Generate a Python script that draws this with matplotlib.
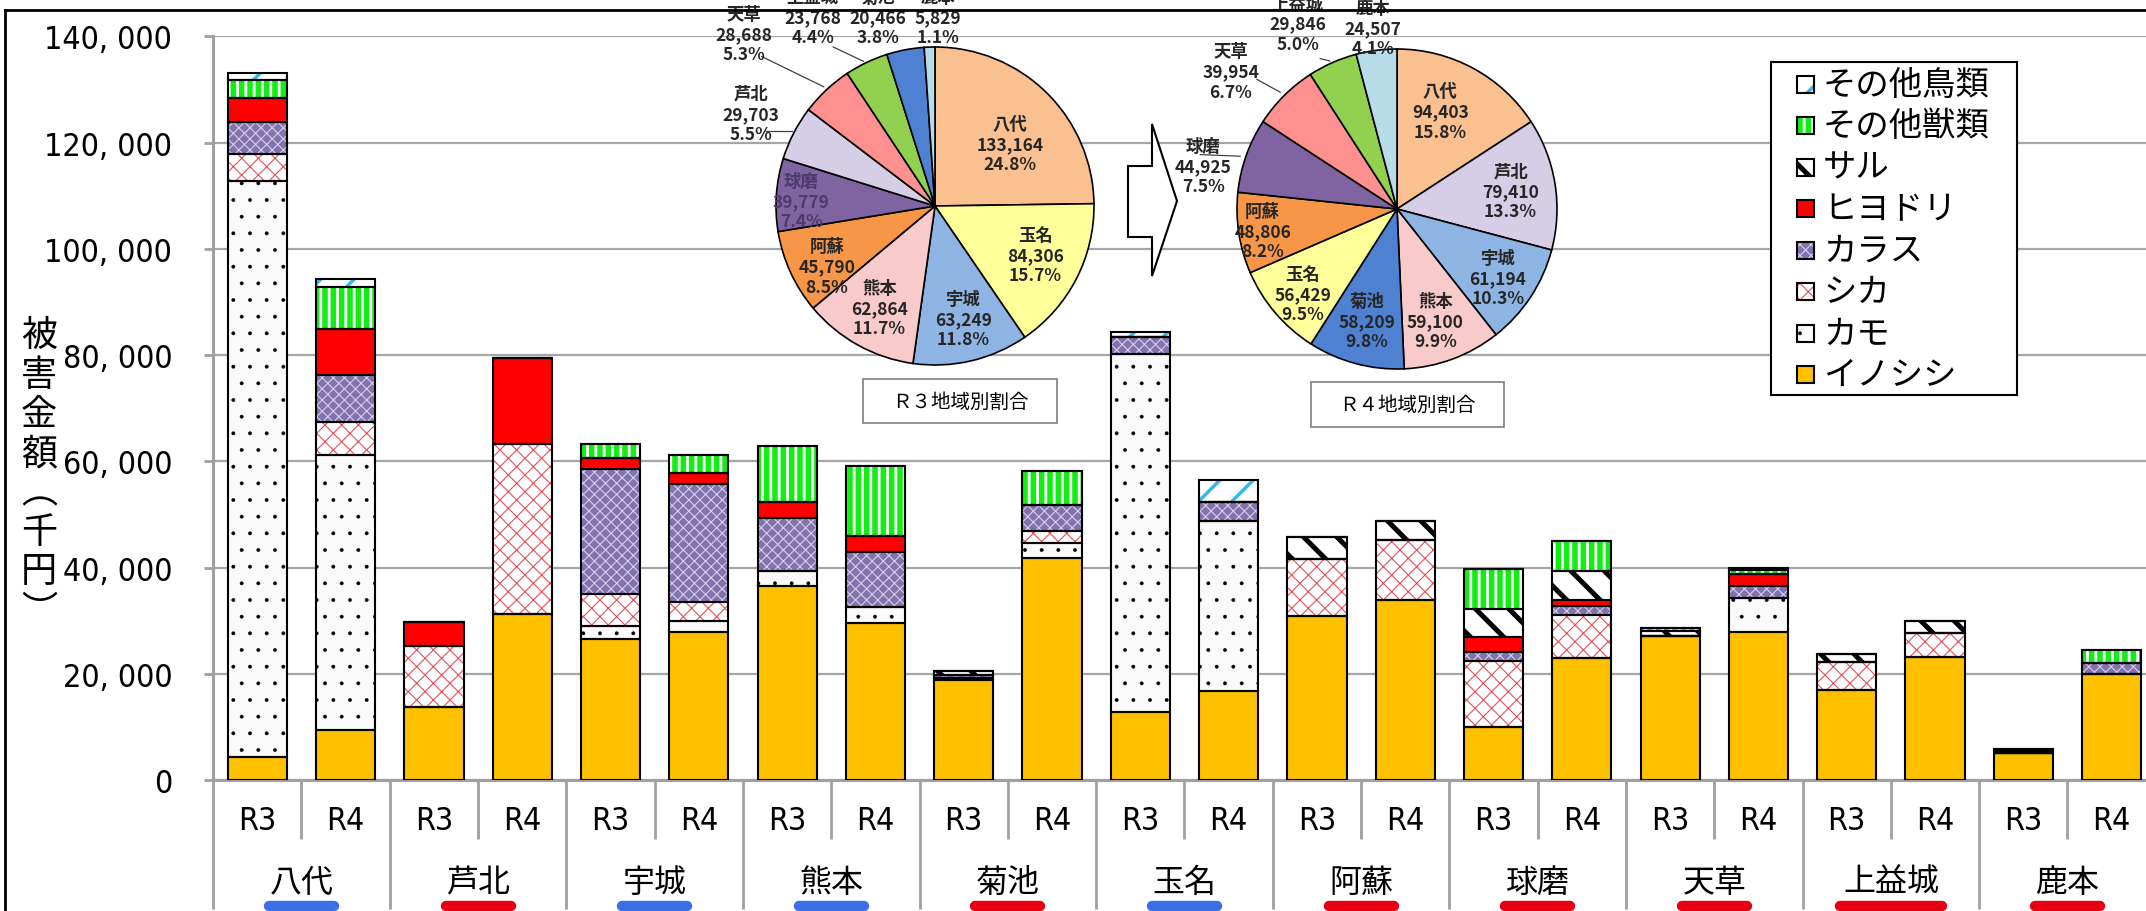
import matplotlib
matplotlib.use("Agg")
import matplotlib.pyplot as plt
from matplotlib import font_manager
from matplotlib.font_manager import FontProperties
from matplotlib.patches import Rectangle, Polygon
from matplotlib.lines import Line2D
import numpy as np

# 地域・年度
regions = ['八代', '芦北', '宇城', '熊本', '菊池', '玉名', '阿蘇', '球磨', '天草', '上益城', '鹿本']
years = ['R3', 'R4']
underline_blue = ['八代', '宇城', '熊本', '玉名']

# 獣種別の被害金額（千円）  順番: 各地域 R3, R4
inoshishi = [4300, 9500, 13700, 31200, 26600, 27800, 36500, 29500, 18900, 41800, 12850, 16700,
             30880, 33830, 10050, 22970, 27100, 27780, 17010, 23180, 5040, 20030]
kamo = [108500, 51700, 0, 0, 2400, 2100, 2800, 3100, 300, 2800, 67370, 32130,
        0, 0, 0, 0, 0, 6420, 0, 0, 0, 0]
shika = [5000, 6100, 11600, 32000, 6100, 3650, 0, 0, 0, 2200, 0, 0,
         10710, 11300, 12410, 8130, 0, 0, 5230, 4410, 0, 0]
karasu = [6100, 8900, 0, 0, 23500, 22250, 10050, 10300, 600, 4900, 3250, 3540,
          0, 0, 1620, 1700, 0, 2330, 0, 0, 0, 2080]
hiyodori = [4400, 8700, 4400, 16210, 2000, 1950, 2950, 3000, 0, 0, 0, 0,
            0, 0, 2810, 1100, 0, 2270, 0, 0, 0, 0]
saru = [0, 0, 0, 0, 0, 0, 0, 0, 666, 0, 0, 0,
        4200, 3676, 5320, 5470, 1000, 0, 1528, 2256, 400, 0]
other_beasts = [3500, 8000, 0, 0, 2650, 3450, 10550, 13200, 0, 6500, 0, 0,
                0, 0, 7569, 5555, 588, 700, 0, 0, 389, 2397]
other_birds = [1364, 1503, 0, 0, 0, 0, 0, 0, 0, 0, 836, 4059,
               0, 0, 0, 0, 0, 454, 0, 0, 0, 0]

# 地域別割合（円グラフ）
r3_regions = ['八代', '玉名', '宇城', '熊本', '阿蘇', '球磨', '芦北', '天草', '上益城', '菊池', '鹿本']
r3_values = [133164, 84306, 63249, 62864, 45790, 39779, 29703, 28688, 23768, 20466, 5829]
r4_regions = ['八代', '芦北', '宇城', '熊本', '菊池', '玉名', '阿蘇', '球磨', '天草', '上益城', '鹿本']
r4_values = [94403, 79410, 61194, 59100, 58209, 56429, 48806, 44925, 39954, 29846, 24507]

pie_colors = {'八代': '#FAC090', '玉名': '#FFFF99', '宇城': '#8DB4E2', '熊本': '#F9CACA',
              '阿蘇': '#F79646', '球磨': '#8064A2', '芦北': '#D5CEE6', '天草': '#FF9090',
              '上益城': '#92D050', '菊池': '#4F81D2', '鹿本': '#B7DEE8'}

# ラベル位置（円の半径=1 とした座標）
r3_label_pos = [(0.47, 0.39), (0.63, -0.31), (0.18, -0.71), (-0.35, -0.64), (-0.68, -0.38),
                (-0.84, 0.03), (-1.16, 0.58), (-1.2, 1.08), (-0.77, 1.19), (-0.36, 1.19), (0.02, 1.19)]
r4_label_pos = [(0.27, 0.61), (0.71, 0.11), (0.63, -0.43), (0.24, -0.70), (-0.19, -0.70),
                (-0.59, -0.53), (-0.84, -0.14), (-1.21, 0.27), (-1.04, 0.86), (-0.62, 1.16), (-0.15, 1.13)]
r3_leaders = [((-1.06, 0.47), (-0.90, 0.47)), ((-1.09, 0.94), (-0.70, 0.75)), ((-0.64, 1.0), (-0.45, 0.91))]
r4_leaders = [((-1.23, 0.34), (-0.98, 0.33)), ((-0.875, 0.81), (-0.73, 0.73)), ((-0.48, 0.94), (-0.42, 0.925))]

# フォント
JP = ['Noto Sans CJK JP', 'DejaVu Sans']
plt.rcParams['font.family'] = JP


def narrow_font(size):
    # 細身の数字フォントがあれば使う
    fl = font_manager.fontManager.ttflist
    for test in (lambda f: f.name == 'Liberation Sans Narrow',
                 lambda f: f.name == 'DejaVu Sans' and f.stretch == 'condensed',
                 lambda f: 'Condensed' in f.name or 'Narrow' in f.name):
        for f in fl:
            if test(f) and f.style == 'normal' and f.weight in (400, 'normal', 'regular'):
                return FontProperties(fname=f.fname, size=size)
    return FontProperties(family='Liberation Sans', size=size - 2)


NUM_FP = narrow_font(23)

W, H = 2146, 912


def fx(px):
    return px / W


def fy(py):
    return 1 - py / H


fig = plt.figure(figsize=(W / 100, H / 100), dpi=100)

# ---- 棒グラフ ----
ax = fig.add_axes([fx(213.2), fy(781), 1942.6 / W, 743.7 / H])

layers = [
    ('イノシシ', inoshishi, '#FFC000', '#FFC000', None, 1.0),
    ('カモ', kamo, '#FAFAFA', 'black', '.', 0.3),
    ('シカ', shika, 'white', '#E8505A', 'xx', 0.8),
    ('カラス', karasu, '#8272AE', '#D8D0EA', 'xxx', 0.8),
    ('ヒヨドリ', hiyodori, '#FF0000', '#FF0000', None, 1.0),
    ('サル', saru, 'white', 'black', '\\', 3.6),
    ('その他獣類', other_beasts, '#11EE11', 'white', '||', 2.0),
    ('その他鳥類', other_birds, 'white', '#33BBEE', '/', 2.5),
]

x = np.arange(len(regions) * len(years))
bottom = np.zeros(len(x))
bw = 0.67
for name, vals, face, hcol, hatch, hlw in layers:
    vals = np.array(vals, dtype=float)
    with plt.rc_context({'hatch.linewidth': hlw}):
        bars = ax.bar(x, vals, bw, bottom=bottom, color=face, edgecolor=hcol,
                      hatch=hatch, linewidth=0, zorder=2)
    for b in bars:
        if hasattr(b, 'set_hatch_linewidth'):
            b.set_hatch_linewidth(hlw)
    ax.bar(x, vals, bw, bottom=bottom, fill=False, edgecolor='black', linewidth=1.5, zorder=3)
    bottom += vals

ax.set_xlim(-0.5, len(x) - 0.5)
ax.set_ylim(0, 140000)
yt = list(range(0, 140001, 20000))
ax.set_yticks(yt, [f"{v:,}".replace(',', ', ') for v in yt], fontproperties=NUM_FP)
ax.set_xticks(x, years * len(regions), fontproperties=NUM_FP)
ax.tick_params(axis='x', length=0, pad=18)
ax.tick_params(axis='y', length=6.5, width=2, color='#A0A0A0', pad=23)
ax.grid(axis='y', color='#A6A6A6', linewidth=1.6)
ax.set_axisbelow(True)
for s in ['top', 'right']:
    ax.spines[s].set_visible(False)
for s in ['left', 'bottom']:
    ax.spines[s].set_color('#A0A0A0')
    ax.spines[s].set_linewidth(2.2)

trans = ax.get_xaxis_transform()
ax.vlines(np.arange(0, len(x), 2) + 0.5, -0.0793, 0, transform=trans,
          colors='#A0A0A0', linewidth=2, clip_on=False)
ax.vlines(np.arange(0, len(x) + 1, 2) - 0.5, -0.1735, 0, transform=trans,
          colors='#A0A0A0', linewidth=2, clip_on=False)
for g, name in enumerate(regions):
    xc = 2 * g + 0.5
    ax.text(xc, -0.137, name, transform=trans, ha='center', va='center', fontsize=23, clip_on=False)
    half = (len(name) * 37 - 9) / 88.3 / 2
    col = '#3B6FEA' if name in underline_blue else '#E60012'
    ax.plot([xc - half, xc + half], [-0.1694, -0.1694], transform=trans, color=col,
            linewidth=7.5, solid_capstyle='round', clip_on=False)

fig.text(fx(39), fy(474), '被\n害\n金\n額\n︵\n千\n円\n︶', ha='center', va='center',
         fontsize=26, linespacing=1.12)


# ---- 円グラフ ----
def add_pie(cx, cy, r, regs, values, label_pos, leaders):
    lim = 1.35
    size = 2 * lim * r
    pax = fig.add_axes([fx(cx - size / 2), fy(cy + size / 2), size / W, size / H])
    pax.pie(values, colors=[pie_colors[n] for n in regs], startangle=90, counterclock=False,
            wedgeprops=dict(edgecolor='black', linewidth=1.2))
    pax.set_xlim(-lim, lim)
    pax.set_ylim(-lim, lim)
    pax.axis('off')
    total = sum(values)
    for n, v, (lx, ly) in zip(regs, values, label_pos):
        color = '#4B3B6B' if (n == '球磨' and lx > -1) else '#262626'
        pax.text(lx, ly, f"{n}\n{v:,}\n{v / total * 100:.1f}%", ha='center', va='center',
                 fontsize=12.5, fontweight='bold', linespacing=1.15, color=color)
    for (x0, y0), (x1, y1) in leaders:
        pax.plot([x0, x1], [y0, y1], color='#404040', linewidth=0.9)


add_pie(935, 207, 159, r3_regions, r3_values, r3_label_pos, r3_leaders)
add_pie(1397, 210, 160, r4_regions, r4_values, r4_label_pos, r4_leaders)

for (x0, y0, x1, y1), title in [((863, 380, 1057, 424), 'Ｒ３地域別割合'),
                                 ((1311, 383, 1504, 428), 'Ｒ４地域別割合')]:
    fig.add_artist(Rectangle((fx(x0), fy(y1)), (x1 - x0) / W, (y1 - y0) / H, transform=fig.transFigure,
                             facecolor='white', edgecolor='#7F7F7F', linewidth=1.2))
    fig.text(fx((x0 + x1) / 2), fy((y0 + y1) / 2), title, ha='center', va='center', fontsize=14)

arrow_px = [(1128, 167), (1152, 167), (1152, 125), (1177, 202), (1152, 277), (1152, 238), (1128, 238)]
fig.add_artist(Polygon([(fx(a), fy(b)) for a, b in arrow_px], closed=True, transform=fig.transFigure,
                       facecolor='white', edgecolor='black', linewidth=1.5))

# ---- 凡例 ----
lx0, ly0, lx1, ly1 = 1771, 63, 2017, 396
lax = fig.add_axes([fx(lx0), fy(ly1), (lx1 - lx0) / W, (ly1 - ly0) / H])
lax.set_xlim(0, lx1 - lx0)
lax.set_ylim(ly1 - ly0, 0)
lax.set_xticks([])
lax.set_yticks([])
for s in lax.spines.values():
    s.set_color('black')
    s.set_linewidth(1.5)
for i, (name, vals, face, hcol, hatch, hlw) in enumerate(layers[::-1]):
    yc = 22 + i * 41.5
    with plt.rc_context({'hatch.linewidth': hlw}):
        p = Rectangle((26, yc - 8.5), 17, 17, facecolor=face, edgecolor=hcol, hatch=hatch, linewidth=0)
    if hasattr(p, 'set_hatch_linewidth'):
        p.set_hatch_linewidth(hlw)
    lax.add_patch(p)
    lax.add_patch(Rectangle((26, yc - 8.5), 17, 17, fill=False, edgecolor='black', linewidth=1.5))
    lax.text(52, yc, name, ha='left', va='center', fontsize=24)

# 外枠
fig.add_artist(Line2D([fx(5), fx(5)], [0, fy(10.7)], transform=fig.transFigure, color='black', linewidth=2))
fig.add_artist(Line2D([fx(5), 1], [fy(10.7), fy(10.7)], transform=fig.transFigure, color='black', linewidth=2))

fig.savefig('out.png', dpi=100)
